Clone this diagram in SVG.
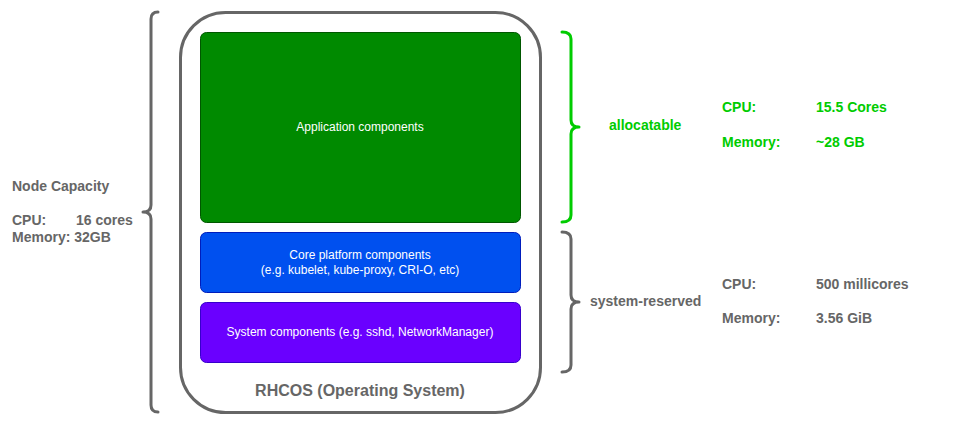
<svg xmlns="http://www.w3.org/2000/svg" width="960" height="424" viewBox="0 0 960 424">
<style>
text{font-family:"Liberation Sans",Arial,sans-serif}
.lbl{font-size:14px;font-weight:bold;fill:#666666}
.grn{font-size:14px;font-weight:bold;fill:#00CC00}
.box{font-size:12px;fill:#ffffff;text-anchor:middle}
.brace{fill:none;stroke-width:3;stroke-linecap:round;stroke-linejoin:round}
</style>
<rect width="960" height="424" fill="#ffffff"/>
<g id="rhcos">
<rect x="180.5" y="12.5" width="360" height="400" rx="45" ry="45" fill="#ffffff" stroke="#666666" stroke-width="3"/>
<text x="360" y="396" text-anchor="middle" style="font-size:16px;font-weight:bold;fill:#666666">RHCOS (Operating System)</text>
</g>
<g id="app">
<rect x="200.5" y="32.5" width="320" height="190" rx="6" fill="#008a00" stroke="#005700"/>
<text class="box" x="360" y="131">Application components</text>
</g>
<g id="core">
<rect x="200.5" y="232.5" width="320" height="60" rx="6" fill="#0050ef" stroke="#001dbc"/>
<text class="box" x="360" y="259">Core platform components</text>
<text class="box" x="360" y="274">(e.g. kubelet, kube-proxy, CRI-O, etc)</text>
</g>
<g id="system">
<rect x="200.5" y="302.5" width="320" height="60" rx="6" fill="#6a00ff" stroke="#3700cc"/>
<text class="box" x="360" y="336">System components (e.g. sshd, NetworkManager)</text>
</g>
<g id="connectors">
<path class="brace" stroke="#666666" d="M158 12 Q151 12 151 19 V205 Q151 212 143 212 Q151 212 151 219 V405 Q151 412 158 412"/>
<path class="brace" stroke="#00CC00" d="M562 32 Q571 32 571 39 V120 Q571 127 579 127 Q571 127 571 134 V215 Q571 222 562 222"/>
<path class="brace" stroke="#666666" d="M562 232 Q571 232 571 239 V295 Q571 302 579 302 Q571 302 571 309 V365 Q571 372 562 372"/>
</g>
<g id="node-capacity">
<text class="lbl" x="12" y="191">Node Capacity</text>
<text class="lbl" x="12" y="225">CPU:</text>
<text class="lbl" x="76" y="225">16 cores</text>
<text class="lbl" x="12" y="242">Memory: 32GB</text>
</g>
<g id="allocatable">
<text class="grn" x="609" y="130">allocatable</text>
<text class="grn" x="722" y="112">CPU:</text>
<text class="grn" x="816" y="112">15.5 Cores</text>
<text class="grn" x="722" y="147">Memory:</text>
<text class="grn" x="816" y="147">~28 GB</text>
</g>
<g id="system-reserved">
<text class="lbl" x="590" y="306">system-reserved</text>
<text class="lbl" x="722" y="289">CPU:</text>
<text class="lbl" x="816" y="289">500 millicores</text>
<text class="lbl" x="722" y="323">Memory:</text>
<text class="lbl" x="816" y="323">3.56 GiB</text>
</g>
</svg>
